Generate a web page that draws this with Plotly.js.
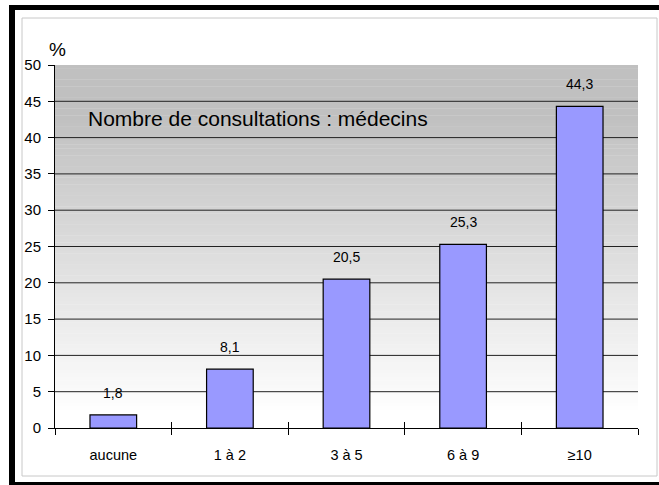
<!DOCTYPE html>
<html>
<head>
<meta charset="utf-8">
<script src="https://cdn.plot.ly/plotly-3.0.1.min.js"></script>
<style>
html,body{margin:0;padding:0;background:#fff;}
#chart{width:659px;height:485px;}
</style>
</head>
<body>
<div id="chart"></div>
<script>
const categories = ["aucune", "1 à 2", "3 à 5", "6 à 9", "≥10"];
const values = [1.8, 8.1, 20.5, 25.3, 44.3];
const valueLabels = ["1,8", "8,1", "20,5", "25,3", "44,3"];
const yTicks = [0, 5, 10, 15, 20, 25, 30, 35, 40, 45, 50];
const chartTitle = "Nombre de consultations : médecins";

const L = 55, R = 638, T = 65, B = 428, W = 659, H = 485;
const px = x => (x - L) / (R - L);
const py = y => (B - y) / (B - T);
const REG = "'Liberation Sans', Arial, sans-serif";

const shapes = [];
// gradient background stripes
const steps = 100;
for (let i = 0; i < steps; i++) {
  const y0 = 50 * i / steps, y1 = 50 * (i + 1) / steps;
  const ym = (y0 + y1) / 2;
  let t = Math.min(1, Math.max(0, (ym - 2) / 41));
  const c = Math.round(255 - (255 - 192) * t);
  shapes.push({type: 'rect', xref: 'paper', yref: 'y', x0: 0, x1: 1, y0: y0, y1: y1 + 0.05,
    fillcolor: `rgb(${c},${c},${c})`, line: {width: 0}, layer: 'below'});
}
// grid lines
yTicks.slice(1, -1).forEach(v => shapes.push({type: 'line', xref: 'paper', yref: 'y', x0: 0, x1: 1, y0: v, y1: v,
  line: {color: '#222', width: 1}, layer: 'below'}));
// frame
shapes.push({type: 'rect', xref: 'paper', yref: 'paper', x0: px(22), x1: px(657), y0: py(476), y1: py(18),
  line: {color: '#c8c8c8', width: 1}, fillcolor: 'rgba(0,0,0,0)', layer: 'below'});
shapes.push({type: 'rect', xref: 'paper', yref: 'paper', x0: px(9), x1: px(15), y0: py(485), y1: py(5),
  fillcolor: '#000', line: {width: 0}});
shapes.push({type: 'rect', xref: 'paper', yref: 'paper', x0: px(9), x1: px(W + 5), y0: py(10), y1: py(5),
  fillcolor: '#000', line: {width: 0}});
shapes.push({type: 'rect', xref: 'paper', yref: 'paper', x0: px(9), x1: px(W + 5), y0: py(490), y1: py(482),
  fillcolor: '#000', line: {width: 0}});

const annotations = categories.map((c, i) => ({
  x: c, y: values[i], xref: 'x', yref: 'y', text: valueLabels[i], showarrow: false,
  yanchor: 'middle', yshift: 22, font: {family: REG, size: 14, color: '#000'}
}));
annotations.push({x: px(86), y: py(118), xref: 'paper', yref: 'paper', xanchor: 'left', yanchor: 'middle',
  text: chartTitle, showarrow: false, font: {family: REG, size: 21, color: '#000'}});
annotations.push({x: px(57), y: py(50), xref: 'paper', yref: 'paper', xanchor: 'center', yanchor: 'middle',
  text: '%', showarrow: false, font: {family: REG, size: 19, color: '#000'}});

const data = [{
  type: 'bar', x: categories, y: values, width: 0.4,
  marker: {color: '#9999FF', line: {color: '#000', width: 1.2}},
  hoverinfo: 'none'
}];

const layout = {
  width: W, height: H,
  margin: {l: L, r: W - R, t: T, b: H - B, pad: 0},
  paper_bgcolor: '#fff', plot_bgcolor: 'rgba(0,0,0,0)',
  showlegend: false,
  font: {family: REG, size: 14, color: '#000'},
  xaxis: {
    type: 'category', tickson: 'boundaries', ticks: 'outside', ticklen: 6, tickcolor: '#000', tickwidth: 1,
    showline: true, linecolor: '#000', linewidth: 1, showgrid: false, zeroline: false,
    tickfont: {size: 14.5}, ticklabelstandoff: 14, range: [-0.5, 4.5]
  },
  xaxis2: {
    overlaying: 'x', anchor: 'y', range: [-0.5, 4.5], tickvals: [-0.5, 0.5, 1.5, 2.5, 3.5, 4.5],
    ticks: 'inside', ticklen: 6, tickcolor: '#000', showticklabels: false, showgrid: false, zeroline: false, showline: false
  },
  yaxis: {
    range: [0, 50], tickvals: yTicks, ticktext: yTicks.map(String), ticks: 'outside', ticklen: 6, tickcolor: '#000',
    showline: true, linecolor: '#000', linewidth: 1, showgrid: false, zeroline: false, tickfont: {size: 15},
    ticklabelstandoff: 4
  },
  shapes: shapes,
  annotations: annotations
};

const data2 = data.concat([{type: 'scatter', x: [-0.5], y: [0], xaxis: 'x2', yaxis: 'y', mode: 'markers',
  marker: {opacity: 0}, hoverinfo: 'none'}]);

Plotly.newPlot('chart', data2, layout, {displayModeBar: false, staticPlot: true});
</script>
</body>
</html>
